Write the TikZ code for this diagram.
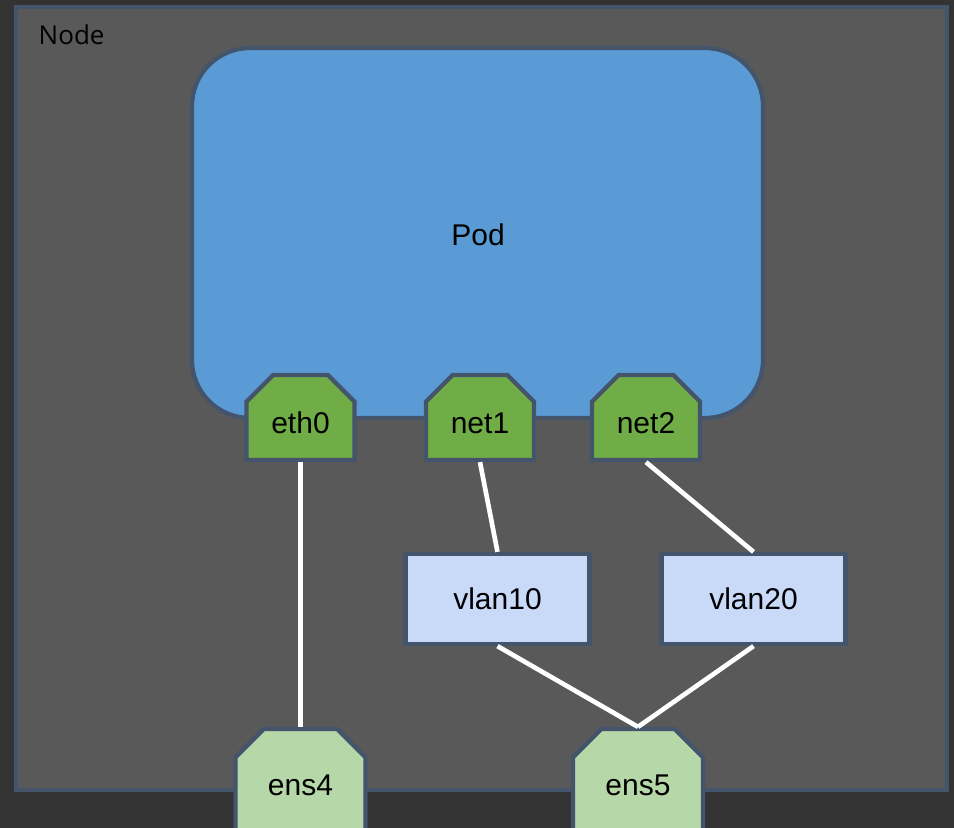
\documentclass[tikz,border=0pt]{standalone}
\usepackage{fontspec}
\setmainfont{Liberation Sans}
\newfontfamily\hostfont{Open Sans}
\usetikzlibrary{shapes.misc}
\definecolor{bgdark}{HTML}{333333}
\definecolor{hostgray}{HTML}{595959}
\definecolor{slate}{HTML}{44546A}
\definecolor{podblue}{HTML}{5B9BD5}
\definecolor{portgreen}{HTML}{70AD47}
\definecolor{nicgreen}{HTML}{B6D7A8}
\definecolor{vlanblue}{HTML}{C9DAF8}
\tikzset{
  lbl/.style={font=\fontsize{22.5}{27}\selectfont, text=black},
  box/.style={draw=slate, line width=3.2pt, inner sep=0pt, lbl},
  chamf/.style={box, chamfered rectangle, chamfered rectangle corners={north west,north east}},
  port/.style={chamf, chamfered rectangle xsep=10pt, chamfered rectangle ysep=10pt,
    fill=portgreen, minimum width=81pt, minimum height=63.75pt, text height=23.5pt, text depth=0pt},
  nic/.style={chamf, fill=nicgreen, minimum width=97.5pt, minimum height=84pt,
    chamfered rectangle xsep=13.5pt, chamfered rectangle ysep=13.5pt},
  vlan/.style={box, rectangle, fill=vlanblue, minimum width=138pt, minimum height=67.5pt},
  wire/.style={draw=white, line width=3.5pt}
}
\begin{document}
\begin{tikzpicture}[x=0.75pt,y=-0.75pt]
  \fill[bgdark] (0,0) rectangle (954,828);
  \useasboundingbox (0,0) rectangle (954,828);
  %% the node frame and the pod
  \node[box, fill=hostgray, minimum width=698.25pt, minimum height=587.25pt] (host) at (481.5,398.5) {};
  \node[anchor=base west, font=\hostfont\fontsize{19.5}{23}\selectfont] (hostlabel) at (34,45) {Node};
  \node[box, fill=podblue, rounded corners=43.5pt, minimum width=428.25pt, minimum height=277.5pt] (pod) at (477.5,233) {};
  \node[lbl] (podlabel) at (478,235) {Pod};
  %% interfaces
  \node[port] (eth0) at (300.5,417.5) {eth0};
  \node[port] (net1) at (480,417.5) {net1};
  \node[port] (net2) at (646,417.5) {net2};
  \node[vlan] (vlan10) at (497.5,599) {vlan10};
  \node[vlan] (vlan20) at (753.5,599) {vlan20};
  \node[nic] (ens4) at (300.5,785) {ens4};
  \node[nic] (ens5) at (638,785) {ens5};
  %% links
  \draw[wire] (eth0.south) -- (ens4.north);
  \draw[wire] (net1.south) -- (vlan10.north);
  \draw[wire] (net2.south) -- (vlan20.north);
  \draw[wire] (vlan10.south) -- (ens5.north);
  \draw[wire] (vlan20.south) -- (ens5.north);
\end{tikzpicture}
\end{document}
